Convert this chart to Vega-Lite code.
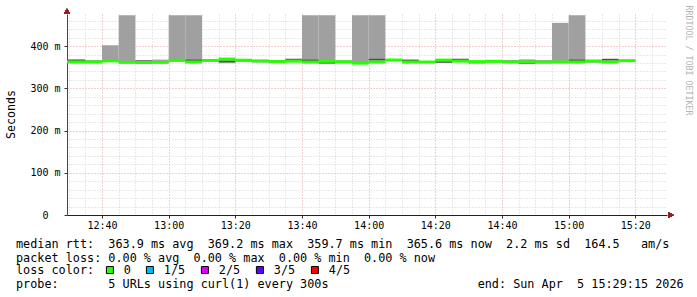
{
  "$schema": "https://vega.github.io/schema/vega-lite/v6.json",
  "width": 600,
  "height": 201,
  "autosize": {"type": "none"},
  "padding": {"left": 67, "top": 14, "right": 30, "bottom": 82},
  "background": "white",
  "config": {"view": {"stroke": null}, "font": "DejaVu Sans Mono"},
  "datasets": {
    "smoke": [
      {"t": 25, "t2": 30, "lo": 360, "hi": 367.5, "dk": 366.5, "med": 362.5, "loss": "0"},
      {"t": 30, "t2": 35, "lo": 360, "hi": 367.5, "dk": 366.5, "med": 362.5, "loss": "0"},
      {"t": 35, "t2": 40, "lo": 361, "hi": 367, "dk": null, "med": 362.5, "loss": "0"},
      {"t": 40, "t2": 45, "lo": 363, "hi": 402, "dk": null, "med": 365, "loss": "0"},
      {"t": 45, "t2": 50, "lo": 360, "hi": 473, "dk": null, "med": 361.5, "loss": "0"},
      {"t": 50, "t2": 55, "lo": 359.5, "hi": 367, "dk": 364, "med": 361, "loss": "0"},
      {"t": 55, "t2": 60, "lo": 360, "hi": 368, "dk": null, "med": 361.5, "loss": "0"},
      {"t": 60, "t2": 65, "lo": 363, "hi": 473, "dk": null, "med": 366.3, "loss": "0"},
      {"t": 65, "t2": 70, "lo": 360, "hi": 473, "dk": 366.3, "med": 362.3, "loss": "0"},
      {"t": 70, "t2": 75, "lo": 363, "hi": 368, "dk": null, "med": 366, "loss": "0"},
      {"t": 75, "t2": 80, "lo": 359.5, "hi": 370, "dk": 363.5, "med": 369.2, "loss": "0"},
      {"t": 80, "t2": 85, "lo": 362.5, "hi": 368, "dk": null, "med": 366.5, "loss": "0"},
      {"t": 85, "t2": 90, "lo": 362, "hi": 367, "dk": 363.5, "med": 365, "loss": "0"},
      {"t": 90, "t2": 95, "lo": 361, "hi": 367, "dk": null, "med": 363, "loss": "0"},
      {"t": 95, "t2": 100, "lo": 362, "hi": 369, "dk": 368.3, "med": 364.5, "loss": "0"},
      {"t": 100, "t2": 105, "lo": 360, "hi": 473, "dk": 366.3, "med": 362.2, "loss": "0"},
      {"t": 105, "t2": 110, "lo": 359, "hi": 473, "dk": 360.5, "med": 364, "loss": "0"},
      {"t": 110, "t2": 115, "lo": 361, "hi": 366.5, "dk": null, "med": 362.8, "loss": "0"},
      {"t": 115, "t2": 120, "lo": 358.5, "hi": 473, "dk": null, "med": 359.7, "loss": "0"},
      {"t": 120, "t2": 125, "lo": 361, "hi": 473, "dk": 368.2, "med": 362.3, "loss": "0"},
      {"t": 125, "t2": 130, "lo": 365, "hi": 368.5, "dk": null, "med": 367, "loss": "0"},
      {"t": 130, "t2": 135, "lo": 361, "hi": 367, "dk": 366.3, "med": 362.3, "loss": "0"},
      {"t": 135, "t2": 140, "lo": 361, "hi": 364, "dk": null, "med": 362.3, "loss": "0"},
      {"t": 140, "t2": 145, "lo": 360.5, "hi": 368, "dk": 362.5, "med": 366.8, "loss": "0"},
      {"t": 145, "t2": 150, "lo": 362.5, "hi": 369, "dk": 368.3, "med": 364.5, "loss": "0"},
      {"t": 150, "t2": 155, "lo": 359.8, "hi": 365, "dk": 361, "med": 363.2, "loss": "0"},
      {"t": 155, "t2": 160, "lo": 361, "hi": 366, "dk": null, "med": 364, "loss": "0"},
      {"t": 160, "t2": 165, "lo": 361, "hi": 367, "dk": null, "med": 362.3, "loss": "0"},
      {"t": 165, "t2": 170, "lo": 359, "hi": 368.5, "dk": 360, "med": 362.5, "loss": "0"},
      {"t": 170, "t2": 175, "lo": 360, "hi": 365, "dk": 364, "med": 361.8, "loss": "0"},
      {"t": 175, "t2": 180, "lo": 361, "hi": 455, "dk": null, "med": 362.3, "loss": "0"},
      {"t": 180, "t2": 185, "lo": 361, "hi": 473, "dk": 366.3, "med": 362.3, "loss": "0"},
      {"t": 185, "t2": 190, "lo": 360.5, "hi": 366.5, "dk": null, "med": 364.8, "loss": "0"},
      {"t": 190, "t2": 195, "lo": 361, "hi": 369, "dk": 368.2, "med": 362.3, "loss": "0"},
      {"t": 195, "t2": 200, "lo": 362.5, "hi": 367, "dk": null, "med": 365.5, "loss": "0"}
    ]
  },
  "data": {"name": "smoke"},
  "title": {
    "text": [
      "median\u00a0rtt:\u00a0\u00a0363.9\u00a0ms\u00a0avg\u00a0\u00a0369.2\u00a0ms\u00a0max\u00a0\u00a0359.7\u00a0ms\u00a0min\u00a0\u00a0365.6\u00a0ms\u00a0now\u00a0\u00a02.2\u00a0ms\u00a0sd\u00a0\u00a0164.5\u00a0\u00a0\u00a0am/s",
      "packet\u00a0loss:\u00a00.00\u00a0%\u00a0avg\u00a0\u00a00.00\u00a0%\u00a0max\u00a0\u00a00.00\u00a0%\u00a0min\u00a0\u00a00.00\u00a0%\u00a0now"
    ],
    "subtitle": "probe:\u00a0\u00a0\u00a0\u00a0\u00a0\u00a0\u00a05\u00a0URLs\u00a0using\u00a0curl(1)\u00a0every\u00a0300s\u00a0\u00a0\u00a0\u00a0\u00a0\u00a0\u00a0\u00a0\u00a0\u00a0\u00a0\u00a0\u00a0\u00a0\u00a0\u00a0\u00a0\u00a0\u00a0\u00a0\u00a0end:\u00a0Sun\u00a0Apr\u00a0\u00a05\u00a015:29:15\u00a02026",
    "orient": "bottom",
    "anchor": "start",
    "frame": "group",
    "dx": -51,
    "dy": -42,
    "offset": 4,
    "font": "DejaVu Sans Mono",
    "fontSize": 11.8,
    "fontWeight": "normal",
    "color": "#000000",
    "lineHeight": 14,
    "baseline": "top",
    "subtitleFont": "DejaVu Sans Mono",
    "subtitleFontSize": 11.8,
    "subtitleFontWeight": "normal",
    "subtitleColor": "#000000",
    "subtitleLineHeight": 14,
    "subtitlePadding": 14
  },
  "layer": [
    {
      "layer": [
        {
          "mark": {"type": "rect", "color": "#a0a0a0", "clip": true},
          "encoding": {
            "x": {
              "field": "t", "type": "quantitative",
              "scale": {"domain": [29.5, 209.5], "nice": false, "zero": false},
              "axis": {
                "values": [30,35,40,45,50,55,60,65,70,75,80,85,90,95,100,105,110,115,120,125,130,135,140,145,150,155,160,165,170,175,180,185,190,195,200,205],
                "tickCount": 200,
                "labelExpr": "datum.value % 20 === 0 ? (12 + floor(datum.value / 60)) + ':' + (datum.value % 60 < 10 ? '0' : '') + (datum.value % 60) : ''",
                "grid": true,
                "gridColor": {"condition": {"test": "datum.value % 20 === 0", "value": "#e2a0a0"}, "value": "#d2d2d2"},
                "gridDash": [1, 2],
                "tickColor": {"condition": {"test": "datum.value % 20 === 0", "value": "#333333"}, "value": "transparent"},
                "tickSize": 3,
                "labelFont": "DejaVu Sans Mono",
                "labelFontSize": 10,
                "labelColor": "#000000",
                "labelPadding": 2,
                "labelOverlap": false,
                "labelFlush": false,
                "domainColor": "#222222",
                "title": null
              }
            },
            "x2": {"field": "t2"},
            "y": {
              "field": "lo", "type": "quantitative",
              "scale": {"domain": [0, 476], "nice": false, "zero": true},
              "axis": {
                "values": [0,20,40,60,80,100,120,140,160,180,200,220,240,260,280,300,320,340,360,380,400,420,440,460],
                "tickCount": 200,
                "labelExpr": "datum.value === 0 ? '0' : (datum.value % 100 === 0 ? datum.value + ' m' : '')",
                "grid": true,
                "gridColor": {"condition": {"test": "datum.value % 100 === 0", "value": "#e2a0a0"}, "value": "#d2d2d2"},
                "gridDash": [1, 2],
                "tickColor": {"condition": {"test": "datum.value % 100 === 0", "value": "#333333"}, "value": "transparent"},
                "tickSize": 3,
                "labelFont": "DejaVu Sans Mono",
                "labelFontSize": 10,
                "labelColor": "#000000",
                "labelPadding": {"condition": {"test": "datum.value === 0", "value": 16}, "value": 4},
                "labelOverlap": false,
                "domainColor": "#444444",
                "title": "Seconds",
                "titleFont": "DejaVu Sans Mono",
                "titleFontSize": 11.6,
                "titleFontWeight": "normal",
                "titleColor": "#000000",
                "titleAngle": -90,
                "titleX": -56,
                "titleY": 100,
                "titleAlign": "center",
                "titleBaseline": "middle"
              }
            },
            "y2": {"field": "hi"}
          }
        },
        {
          "mark": {"type": "rule", "color": "#505050", "strokeWidth": 1.5, "clip": true},
          "encoding": {
            "x": {"field": "t", "type": "quantitative"},
            "x2": {"field": "t2"},
            "y": {"field": "dk", "type": "quantitative"}
          }
        },
        {
          "mark": {"type": "rule", "color": "#26ff00", "strokeWidth": 3, "clip": true},
          "encoding": {
            "x": {"field": "t", "type": "quantitative"},
            "x2": {"field": "t2"},
            "y": {"field": "med", "type": "quantitative"}
          }
        },
        {
          "mark": {"type": "point", "shape": "square", "filled": true, "opacity": 0},
          "encoding": {
            "x": {"field": "t", "type": "quantitative"},
            "y": {"field": "med", "type": "quantitative"},
            "fill": {
              "field": "loss", "type": "nominal",
              "scale": {"domain": ["0", "1/5", "2/5", "3/5", "4/5"], "range": ["#26ff00", "#00b8ff", "#dd00ff", "#5e00ff", "#ff0000"]},
              "legend": {
                "orient": "none",
                "legendX": -51,
                "legendY": 250,
                "direction": "horizontal",
                "columns": 5,
                "title": "loss color:",
                "titleOrient": "left",
                "titleFont": "DejaVu Sans Mono",
                "titleFontSize": 11.8,
                "titleFontWeight": "normal",
                "titleColor": "#000000",
                "titlePadding": 9,
                "labelFont": "DejaVu Sans Mono",
                "labelFontSize": 11.8,
                "labelColor": "#000000",
                "labelOffset": 8,
                "columnPadding": 13,
                "symbolType": "square",
                "symbolSize": 49,
                "symbolOpacity": 1,
                "symbolStrokeColor": "#000000",
                "symbolStrokeWidth": 1,
                "encode": {"symbols": {"update": {"stroke": {"value": "#000000"}, "strokeWidth": {"value": 1}, "opacity": {"value": 1}}}}
              }
            }
          }
        },
        {
          "mark": {"type": "point", "shape": "triangle-up", "filled": true, "color": "#962020", "size": 30, "opacity": 1, "clip": false},
          "encoding": {
            "x": {"datum": 29.5, "type": "quantitative"},
            "y": {"datum": 483, "type": "quantitative"}
          }
        },
        {
          "mark": {"type": "point", "shape": "triangle-right", "filled": true, "color": "#962020", "size": 30, "opacity": 1, "clip": false},
          "encoding": {
            "x": {"datum": 210.7, "type": "quantitative"},
            "y": {"datum": 0, "type": "quantitative"}
          }
        }
      ]
    },
    {
      "mark": {"type": "rule", "opacity": 0},
      "encoding": {
        "y": {
          "field": "med", "type": "quantitative",
          "scale": {"domain": [0, 476], "nice": false},
          "axis": {
            "orient": "right",
            "title": "RRDTOOL / TOBI OETIKER",
            "labels": false,
            "ticks": false,
            "domain": false,
            "grid": false,
            "titleFont": "DejaVu Sans Mono",
            "titleFontSize": 8.3,
            "titleFontWeight": "normal",
            "titleColor": "#b4b4b4",
            "titleAngle": 90,
            "titleX": 20,
            "titleY": 46,
            "titleAlign": "center",
            "titleBaseline": "middle"
          }
        }
      }
    }
  ],
  "resolve": {"scale": {"y": "independent"}}
}
